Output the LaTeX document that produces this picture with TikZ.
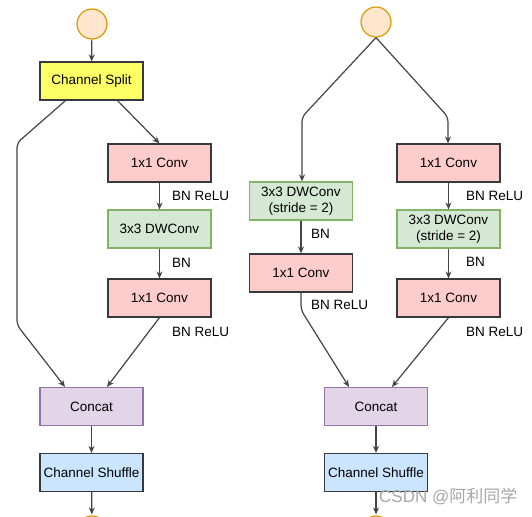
\documentclass[tikz,border=0pt]{standalone}
\usepackage{fontspec}
\setmainfont{Liberation Sans}
\newfontfamily\cjk{Noto Sans CJK SC}
\usetikzlibrary{arrows.meta}
\definecolor{lineC}{HTML}{444444}
\definecolor{darkB}{HTML}{36393D}
\definecolor{yelF}{HTML}{FFFF66}
\definecolor{pinkF}{HTML}{FFCCCC}
\definecolor{grnF}{HTML}{D5E8D4}
\definecolor{grnB}{HTML}{82B366}
\definecolor{purF}{HTML}{E1D5E7}
\definecolor{purB}{HTML}{9673A6}
\definecolor{bluF}{HTML}{CCE5FF}
\definecolor{orgF}{HTML}{FFE6CC}
\definecolor{orgB}{HTML}{D79B00}
\begin{document}
\begin{tikzpicture}[x=1pt,y=-1pt,
  box/.style={draw, line width=1.2pt, minimum width=103pt, minimum height=38pt, inner sep=0pt, align=center,
    font=\fontsize{13.5}{16}\selectfont},
  splitbox/.style={box, fill=yelF, draw=darkB},
  convbox/.style={box, fill=pinkF, draw=darkB},
  dwbox/.style={box, fill=grnF, draw=grnB},
  catbox/.style={box, fill=purF, draw=purB},
  shufbox/.style={box, fill=bluF, draw=darkB},
  inbox/.style={circle, draw=orgB, fill=orgF, line width=1.2pt, minimum size=30pt, inner sep=0pt},
  conn/.style={draw=lineC, line width=1.2pt, rounded corners=5pt, -{Stealth[length=7pt,width=6pt]}},
  lab/.style={anchor=west, inner sep=0pt, font=\fontsize{13.5}{16}\selectfont}]
\useasboundingbox (0,0) rectangle (532,516);
\clip (0,0) rectangle (532,516);

% ---------- left unit ----------
\node[inbox] (c1) at (92,24) {};
\node[splitbox] (split) at (91.5,81) {Channel Split};
\node[convbox] (conv1) at (159.5,163) {1x1 Conv};
\node[dwbox] (dw1) at (159.5,229) {3x3 DWConv};
\node[convbox] (conv2) at (159.5,298) {1x1 Conv};
\node[catbox] (cat1) at (91.5,406.5) {Concat};
\node[shufbox] (shuf1) at (91.5,472.5) {Channel Shuffle};
\node[inbox] (c3) at (92,531) {};

\coordinate (l1) at (17,143);
\coordinate (l2) at (17,325);

\draw[conn] (c1) -- (split);
\draw[conn] ([xshift=-26pt]split.south) -- (l1) -- (l2) -- ([xshift=-26.5pt]cat1.north);
\draw[conn] ([xshift=26pt]split.south) -- (conv1.north);
\draw[conn] (conv1) -- (dw1);
\draw[conn] (dw1) -- (conv2);
\draw[conn] (conv2.south) -- ([xshift=15.5pt]cat1.north);
\draw[conn] (cat1) -- (shuf1);
\draw[conn, shorten >=1pt] (shuf1) -- (c3);

\node[lab] at (172,195.5) {BN ReLU};
\node[lab] at (172,263) {BN};
\node[lab] at (172,332) {BN ReLU};

% ---------- right unit ----------
\node[inbox] (c2) at (376,22) {};
\node[dwbox] (dwL) at (301,201) {3x3 DWConv\\(stride = 2)};
\node[convbox] (convL) at (301,273) {1x1 Conv};
\node[convbox] (convR1) at (448.5,163) {1x1 Conv};
\node[dwbox] (dwR) at (448.5,229) {3x3 DWConv\\(stride = 2)};
\node[convbox] (convR2) at (448.5,298) {1x1 Conv};
\node[catbox] (cat2) at (376,406.5) {Concat};
\node[shufbox] (shuf2) at (376,472.5) {Channel Shuffle};
\node[inbox] (c4) at (376,531) {};

\coordinate (r1) at (302,117);
\coordinate (r2) at (448,117);
\coordinate (r3) at (301,310);

\draw[conn] (c2.south) -- (r1) -- (r1 |- dwL.north);
\draw[conn] (c2.south) -- (r2) -- (r2 |- convR1.north);
\draw[conn] (dwL) -- (convL);
\draw[conn] (convL.south) -- (r3) -- ([xshift=-27pt]cat2.north);
\draw[conn] (convR1) -- (dwR);
\draw[conn] (dwR) -- (convR2);
\draw[conn] (convR2.south) -- ([xshift=16pt]cat2.north);
\draw[conn] (cat2) -- (shuf2);
\draw[conn, shorten >=1pt] (shuf2) -- (c4);

\node[lab] at (311,234) {BN};
\node[lab] at (311,305) {BN ReLU};
\node[lab] at (466,195.5) {BN ReLU};
\node[lab] at (466,262) {BN};
\node[lab] at (466,332) {BN ReLU};

% watermark
\node[anchor=west, inner sep=0pt, text=black!35, font=\fontsize{17}{19}\selectfont] (wm) at (379,496) {CSDN @{\cjk 阿利同学}};
\end{tikzpicture}
\end{document}
